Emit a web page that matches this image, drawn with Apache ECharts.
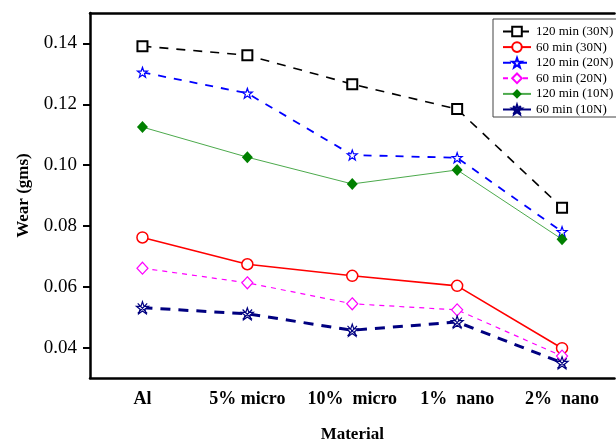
<!DOCTYPE html>
<html>
<head>
<meta charset="utf-8">
<script src="https://cdn.jsdelivr.net/npm/echarts@6/dist/echarts.min.js"></script>
<style>
  html, body { margin: 0; padding: 0; background: #fff; }
  #chart { width: 616px; height: 441px; }
</style>
</head>
<body>
<div id="chart"></div>
<script>
const materials = ['Al', '5% micro', '10%  micro', '1%  nano', '2%  nano']
const yTicks = [0.04, 0.06, 0.08, 0.10, 0.12, 0.14]

const wear120_30 = [0.1391, 0.1361, 0.1266, 0.1184, 0.0860]
const wear60_30 = [0.0762, 0.0674, 0.0636, 0.0603, 0.0398]
const wear120_20 = [0.1305, 0.1236, 0.1033, 0.1024, 0.0781]
const wear60_20 = [0.0661, 0.0613, 0.0544, 0.0524, 0.0372]
const wear120_10 = [0.1125, 0.1026, 0.0938, 0.0984, 0.0756]
const wear60_10 = [0.0531, 0.0511, 0.0457, 0.0484, 0.0350]

const font = 'Liberation Serif, Times New Roman, serif'
const star = 'path://M10,0L12.35,6.76L19.51,6.91L13.8,11.24L15.88,18.09L10,14L4.12,18.09L6.2,11.24L0.49,6.91L7.65,6.76Z'
const starX = star + 'M2.5,2.5L17.5,17.5M17.5,2.5L2.5,17.5'

const chart = echarts.init(document.getElementById('chart'), null, { renderer: 'canvas' })

function line(name, data, opt) {
  return {
    name, type: 'line', data,
    symbol: opt.symbol, symbolSize: opt.size,
    lineStyle: { color: opt.line || opt.color, width: opt.width, type: opt.dash || 'solid' },
    itemStyle: { color: opt.fill || opt.color, borderColor: opt.color, borderWidth: opt.bw },
    emphasis: { disabled: true },
    z: opt.z || 2,
  }
}

chart.setOption({
  animation: false,
  backgroundColor: '#fff',
  textStyle: { fontFamily: font },
  grid: { left: 90, right: 1.5, top: 13, bottom: 63, outerBoundsMode: 'none', containLabel: false },
  legend: {
    orient: 'vertical', left: 493, top: 19,
    padding: [6, 4, 1, 9], itemGap: 2.6,
    itemWidth: 28, itemHeight: 12,
    borderColor: '#444', borderWidth: 1, backgroundColor: '#fff',
    textStyle: { fontFamily: font, fontSize: 13, color: '#000', lineHeight: 13 },
    data: ['120 min (30N)', '60 min (30N)', '120 min (20N)', '60 min (20N)', '120 min (10N)', '60 min (10N)'],
  },
  xAxis: [{
    type: 'category', data: materials, boundaryGap: true,
    name: 'Material', nameLocation: 'middle', nameGap: 48,
    nameTextStyle: { fontFamily: font, fontSize: 17, fontWeight: 'bold', color: '#000' },
    axisLine: { lineStyle: { color: '#000', width: 2.5 } },
    axisTick: { alignWithLabel: true, length: 7, lineStyle: { color: '#000', width: 2 } },
    axisLabel: { interval: 0, hideOverlap: false, margin: 12, fontFamily: font, fontSize: 18, fontWeight: 'bold', color: '#000' },
    splitLine: { show: false },
  }, {
    type: 'category', data: materials, position: 'top',
    axisLine: { lineStyle: { color: '#000', width: 2.5 } },
    axisTick: { show: false }, axisLabel: { show: false }, splitLine: { show: false },
  }],
  yAxis: {
    type: 'value', min: 0.03, max: 0.15,
    name: 'Wear (gms)', nameLocation: 'middle', nameGap: 58,
    nameTextStyle: { fontFamily: font, fontSize: 17, fontWeight: 'bold', color: '#000' },
    axisLine: { show: true, lineStyle: { color: '#000', width: 2.5 } },
    axisTick: { show: true, length: 7, customValues: yTicks, lineStyle: { color: '#000', width: 2 } },
    axisLabel: { margin: 13, customValues: yTicks, fontFamily: font, fontSize: 19, color: '#000', formatter: v => v.toFixed(2) },
    splitLine: { show: false },
  },
  series: [
    line('120 min (30N)', wear120_30, { symbol: 'rect', size: 10, color: '#000', fill: '#fff', bw: 2, width: 1.6, dash: [9, 8] }),
    line('60 min (30N)', wear60_30, { symbol: 'circle', size: 11, color: '#ff0000', fill: '#fff', bw: 1.5, width: 1.6 }),
    line('120 min (20N)', wear120_20, { symbol: star, size: 10, color: '#0000ff', fill: '#fff', bw: 1.2, width: 1.8, dash: [8, 8] }),
    line('60 min (20N)', wear60_20, { symbol: 'diamond', size: [11, 12], color: '#ff00ff', fill: '#fff', bw: 1.2, width: 1.2, dash: [5, 5] }),
    line('120 min (10N)', wear120_10, { symbol: 'diamond', size: [11, 12], color: '#008000', line: '#4caa4c', bw: 0, width: 1 }),
    line('60 min (10N)', wear60_10, { symbol: starX, size: 12, color: '#000080', fill: '#fff', bw: 1.2, width: 3, dash: [10, 8] }),
  ],
})
</script>
</body>
</html>
